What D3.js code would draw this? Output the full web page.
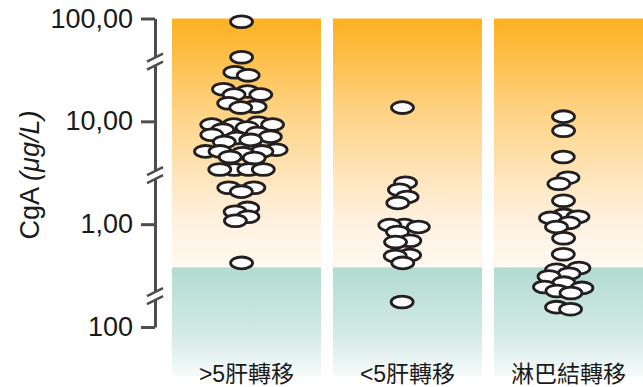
<!DOCTYPE html>
<html>
<head>
<meta charset="utf-8">
<script src="https://cdn.jsdelivr.net/npm/d3@7"></script>
<style>
  html, body { margin: 0; padding: 0; background: #fff; }
  svg { display: block; font-family: "Liberation Sans", Arial, "Noto Sans CJK TC", sans-serif; }
</style>
</head>
<body>
<svg id="chart" width="643" height="387"></svg>
<script>
// ---- data ----
const categories = [">5肝轉移", "<5肝轉移", "淋巴結轉移"];
const valuesLiverMany = [93, 42, 30, 28, 20.5, 19.5, 18.2, 18.2, 15, 13.9, 13.6, 9.7, 9.3, 9.3, 9.3, 8.7, 8.3,
  7.7, 7.4, 7.1, 6.9, 6.6, 6.3, 5.3, 5.1, 5.1, 5.1, 4.9, 4.5, 4.4, 3.4, 3.4, 3.4, 3.4, 2.26, 2.26, 2.07,
  1.44, 1.32, 1.18, 1.08, 0.42];
const valuesLiverFew = [13.6, 2.53, 2.16, 1.84, 1.61, 0.98, 0.98, 0.94, 0.84, 0.69, 0.67, 0.50, 0.49, 0.42, 0.175];
const valuesLymph = [11.1, 8.1, 4.5, 2.83, 2.47, 1.69, 1.23, 1.18, 1.15, 1.03, 0.94, 0.73, 0.51, 0.375, 0.36,
  0.33, 0.31, 0.27, 0.245, 0.24, 0.224, 0.214, 0.156, 0.149];
const seriesValues = [valuesLiverMany, valuesLiverFew, valuesLymph];
const tickValues = [100, 10, 1, 0.1];
const tickLabels = ["100,00", "10,00", "1,00", "100"];
const breakValues = [38, 3, 0.2];
const threshold = 0.38;
const yTitle = "CgA ";
const yTitleUnit = "(μg/L)";

// ---- layout ----
const svg = d3.select("#chart");
const axisX = 155, panelBottom = 376;
const x = d3.scaleBand().domain(categories).range([172, 643]).paddingInner(0.0745).paddingOuter(0);
const y = d3.scaleLog().domain([0.1, 100]).range([327, 18.5]);

const defs = svg.append("defs");
const gOrange = defs.append("linearGradient").attr("id", "gOrange").attr("x1", 0).attr("y1", 0).attr("x2", 0).attr("y2", 1);
[[0, "rgb(253,177,32)"], [0.4, "rgb(254,213,138)"], [0.8, "rgb(255,240,222)"], [1, "rgb(255,249,241)"]]
  .forEach(([o, c]) => gOrange.append("stop").attr("offset", o).attr("stop-color", c));
const gTeal = defs.append("linearGradient").attr("id", "gTeal").attr("x1", 0).attr("y1", 0).attr("x2", 0).attr("y2", 1);
[[0, "rgb(178,219,209)"], [0.6, "rgb(210,234,228)"], [1, "rgb(246,251,250)"]]
  .forEach(([o, c]) => gTeal.append("stop").attr("offset", o).attr("stop-color", c));

// panels
const panels = svg.append("g");
categories.forEach(c => {
  panels.append("rect").attr("x", x(c)).attr("y", y(100)).attr("width", x.bandwidth())
    .attr("height", y(threshold) - y(100)).attr("fill", "url(#gOrange)");
  panels.append("rect").attr("x", x(c)).attr("y", y(threshold)).attr("width", x.bandwidth())
    .attr("height", panelBottom - y(threshold)).attr("fill", "url(#gTeal)");
});

// axis
const axis = d3.axisLeft(y).tickValues(tickValues).tickFormat((d, i) => tickLabels[i])
  .tickSize(14).tickSizeOuter(0).tickPadding(8);
const gAxis = svg.append("g").attr("transform", `translate(${axisX},0)`).call(axis);
gAxis.select(".domain").attr("stroke", "#4d4d4d").attr("stroke-width", 3);
gAxis.selectAll(".tick line").attr("stroke", "#4d4d4d").attr("stroke-width", 3);
gAxis.selectAll(".tick text").attr("fill", "#1a1a1a").style("font-size", "27px")
  .style("font-family", "'Liberation Sans', Arial, sans-serif");

// axis breaks
breakValues.forEach(v => {
  const yy = y(v);
  gAxis.append("rect").attr("x", -3).attr("y", yy - 4).attr("width", 6).attr("height", 8).attr("fill", "#fff");
  [-4, 4].forEach(d => {
    gAxis.append("line").attr("x1", -8).attr("y1", yy + d + 4).attr("x2", 8).attr("y2", yy + d - 4)
      .attr("stroke", "#4d4d4d").attr("stroke-width", 2.5);
  });
});

// y title
const title = svg.append("text").attr("transform", "translate(39,175) rotate(-90)")
  .attr("text-anchor", "middle").attr("fill", "#1a1a1a").style("font-size", "27px");
title.append("tspan").text(yTitle);
title.append("tspan").attr("font-style", "italic").text(yTitleUnit);

// category labels
svg.append("g").selectAll("text").data(categories).join("text")
  .attr("x", d => x(d) + x.bandwidth() / 2).attr("y", 382).attr("text-anchor", "middle")
  .attr("fill", "#1a1a1a").style("font-size", "23px").text(d => d);

// points: beeswarm via force layout (y fixed at value, x dodged), elliptical collision via stretch
const rx = 11, ry = 5.9, stretch = rx / ry;
const gPts = svg.append("g");
categories.forEach((c, ci) => {
  const cx = x(c) + x.bandwidth() / 2 - 5;
  const nodes = seriesValues[ci].map((v, i) => ({
    v, x: cx + ((i % 2) ? 1 : -1) * (i % 5) * 3, fy: y(v) * stretch
  }));
  const sim = d3.forceSimulation(nodes)
    .force("x", d3.forceX(cx).strength(0.05))
    .force("collide", d3.forceCollide(rx * 0.66).iterations(3))
    .stop();
  for (let t = 0; t < 300; t++) sim.tick();
  gPts.append("g").selectAll("ellipse").data(nodes).join("ellipse")
    .attr("cx", d => d.x).attr("cy", d => y(d.v))
    .attr("rx", rx).attr("ry", ry)
    .attr("fill", "#fff").attr("stroke", "#231f20").attr("stroke-width", 2.8);
});
</script>
</body>
</html>
